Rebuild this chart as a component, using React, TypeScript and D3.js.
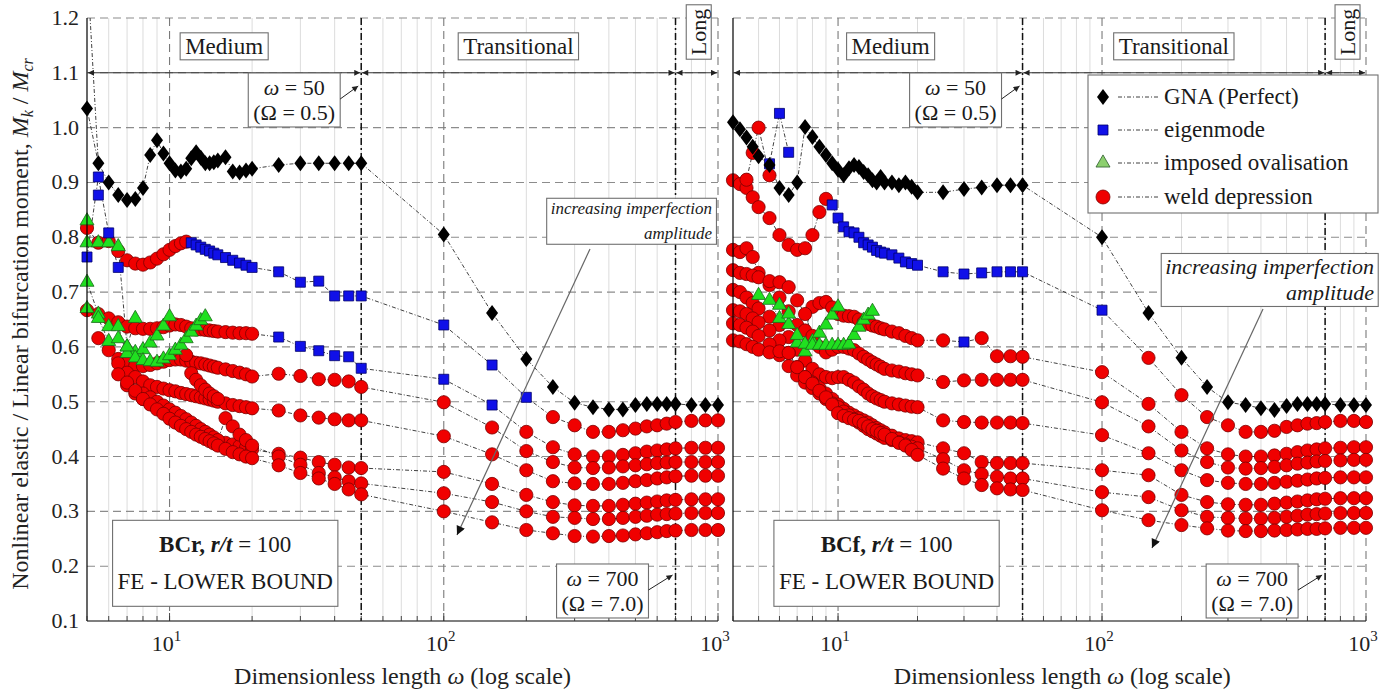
import React, { useRef, useEffect } from "react";
import * as d3 from "d3";

// dimensionless length grid, BCr panel
const omegaL = [5, 5.5, 6, 6.5, 7, 7.5, 8, 8.5, 9, 9.5,
  10, 10.5, 11, 11.5, 12, 12.5, 13, 13.5, 14, 14.5, 15,
  16, 17, 18, 19, 20,
  25, 30, 35, 40, 45, 50,
  100, 150, 200, 250, 300, 350, 400, 450, 500, 550, 600, 650, 700,
  800, 900, 1000];
// BCf panel starts a bit lower
const omegaR = [4, 4.25, 4.5, 4.75,
  5, 5.5, 6, 6.5, 7, 7.5, 8, 8.5, 9, 9.5,
  10, 10.5, 11, 11.5, 12, 12.5, 13, 13.5, 14, 14.5, 15,
  16, 17, 18, 19, 20,
  25, 30, 35, 40, 45, 50,
  100, 150, 200, 250, 300, 350, 400, 450, 500, 550, 600, 650, 700,
  800, 900, 1000];

const yTicks = [0.1, 0.2, 0.3, 0.4, 0.5, 0.6, 0.7, 0.8, 0.9, 1.0, 1.1, 1.2];
const decades = [10, 100, 1000];
const decadeExp = ["1", "2", "3"];
const regionBounds = [50, 700];
const regionNames = ["Medium", "Transitional", "Long"];
const legendLabels = ["GNA (Perfect)", "eigenmode", "imposed ovalisation", "weld depression"];

// ---- BCr (left) ----
const gnaL = [1.035, 0.935, 0.9, 0.877, 0.868, 0.87, 0.89, 0.95, 0.977, 0.953,
  0.935, 0.922, 0.92, 0.925, 0.944, 0.955, 0.945, 0.935, 0.935, 0.937, 0.94,
  0.946, 0.92, 0.918, 0.922, 0.925,
  0.932, 0.935, 0.935, 0.935, 0.935, 0.935,
  0.805, 0.662, 0.578, 0.527, 0.498, 0.49, 0.486, 0.486, 0.494, 0.496, 0.496, 0.496, 0.496,
  0.494, 0.494, 0.494];

const weldAL = [0.817, 0.79, 0.793, 0.775, 0.758, 0.752, 0.75, 0.754, 0.761, 0.769,
  0.777, 0.784, 0.789, 0.792, null, null, null, null, null, null, null,
  null, null, null, null, null,
  null, null, null, null, null, null,
  null, null, null, 0.472, 0.457, 0.445, 0.445, 0.448, 0.451, 0.455, 0.457, 0.46, 0.463,
  0.465, 0.466, 0.466];
const weldBL = [0.667, 0.66, 0.652, 0.645, 0.637, 0.634, 0.633, 0.633, 0.634, 0.636,
  0.639, 0.641, 0.64, 0.637, 0.634, 0.632, 0.632, 0.631, 0.63, 0.629, 0.628,
  0.627, 0.626, 0.625, 0.625, 0.624,
  null, null, null, null, null, null,
  null, null, 0.445, 0.417, 0.404, 0.4, 0.4, 0.403, 0.406, 0.409, 0.411, 0.413, 0.415,
  0.416, 0.416, 0.416];
const weldCL = [null, 0.616, 0.594, 0.578, 0.57, 0.566, 0.565, 0.567, 0.57, 0.573,
  0.576, 0.577, 0.577, 0.575, 0.573, 0.571, 0.57, 0.568, 0.566, 0.564, 0.562,
  0.559, 0.556, 0.553, 0.55, 0.546,
  0.551, 0.547, 0.541, 0.54, 0.537, 0.527,
  0.499, 0.453, 0.41, 0.39, 0.38, 0.379, 0.38, 0.382, 0.384, 0.386, 0.388, 0.389, 0.39,
  0.39, 0.39, 0.39];
const weldDL = [null, null, null, 0.57, 0.553, 0.545, 0.537, 0.53, 0.527, 0.524,
  0.521, 0.519, 0.516, 0.514, 0.512, 0.51, 0.508, 0.506, 0.504, 0.502, 0.5,
  0.497, 0.494, 0.492, 0.49, 0.488,
  0.484, 0.475, 0.471, 0.468, 0.466, 0.466,
  0.437, 0.404, 0.375, 0.355, 0.351, 0.35, 0.35, 0.352, 0.355, 0.357, 0.36, 0.362, 0.364,
  0.365, 0.365, 0.365];
const weldEL = [null, null, null, null, 0.53, 0.515, 0.505, 0.497, 0.49, 0.484,
  0.478, 0.472, 0.466, 0.46, 0.455, 0.45, 0.445, 0.44, 0.436, 0.432, 0.428,
  0.425, 0.422, 0.419, 0.416, 0.413,
  0.405, 0.398, 0.39, 0.385, 0.38, 0.379,
  0.372, 0.35, 0.33, 0.317, 0.311, 0.31, 0.31, 0.312, 0.314, 0.316, 0.318, 0.32, 0.321,
  0.322, 0.322, 0.322];
const weldFL = [null, null, null, null, null, null, 0.515, 0.508, 0.5, 0.493,
  0.486, 0.48, 0.474, 0.468, 0.462, 0.456, 0.45, 0.445, 0.44, 0.435, 0.43,
  0.47, 0.455, 0.44, 0.43, 0.42,
  0.4, 0.385, 0.37, 0.362, 0.355, 0.351,
  0.333, 0.317, 0.3, 0.29, 0.288, 0.286, 0.286, 0.288, 0.29, 0.292, 0.294, 0.295, 0.296,
  0.297, 0.297, 0.297];
const weldGL = [null, null, null, 0.55, 0.535, 0.52, 0.505, 0.495, 0.486, 0.478,
  0.469, 0.462, 0.456, 0.45, 0.445, 0.44, 0.436, 0.432, 0.428, 0.424, 0.42,
  0.414, 0.408, 0.404, 0.4, 0.397,
  0.384, 0.37, 0.36, 0.35, 0.34, 0.331,
  0.3, 0.28, 0.266, 0.26, 0.255, 0.254, 0.255, 0.256, 0.258, 0.26, 0.262, 0.264, 0.265,
  0.266, 0.266, 0.266];
const weldHL = [[11.5, 0.585], [12, 0.552], [12.5, 0.54], [13, 0.53], [13.5, 0.522], [14, 0.515], [14.5, 0.51], [15, 0.505]];

const eigAL = [[12, 0.79], [12.5, 0.786], [13, 0.782], [13.5, 0.778], [14, 0.775], [14.5, 0.771], [15, 0.768],
  [16, 0.763], [17, 0.758], [18, 0.753], [19, 0.749], [20, 0.745], [25, 0.737], [30, 0.718], [35, 0.72],
  [40, 0.693], [45, 0.693], [50, 0.693], [100, 0.64], [150, 0.567], [200, 0.508]];
const eigBL = [[25, 0.618], [30, 0.601], [35, 0.593], [40, 0.584], [45, 0.582], [50, 0.561], [100, 0.541], [150, 0.494]];
const eigSL = [[5, 0.764], [5.5, 0.91], [6, 0.808], [6.5, 0.745]];
const eigTL = [[5.5, 0.877]];

const ovAL = [[5, 0.79], [5.5, 0.79], [6, 0.79], [6.5, 0.783], [7, 0.6], [7.5, 0.59], [8, 0.595], [8.5, 0.607], [9, 0.62], [9.5, 0.638], [10, 0.655]];
const ovBL = [[5, 0.718], [5.5, 0.66], [6, 0.637], [6.5, 0.637], [7, 0.588], [7.5, 0.58], [8, 0.575], [8.5, 0.573], [9, 0.572],
  [9.5, 0.578], [10, 0.584], [10.5, 0.594], [11, 0.603], [11.5, 0.615], [12, 0.627], [12.5, 0.638], [13, 0.648], [13.5, 0.655]];
const ovCL = [[5, 0.67], [5.5, 0.652], [6, 0.61], [6.5, 0.615], [7, 0.6], [7.5, 0.652]];
const ovDL = [[5, 0.83]];

// line pieces without own markers (where a curve changes marker, or enters from above 1.2)
const linksL = [
  [[5, 1.3], [5.5, 0.935]],
  [[11.5, 0.792], [12, 0.79]],
  [[200, 0.508], [250, 0.472]],
  [[20, 0.624], [25, 0.618]],
  [[150, 0.494], [200, 0.445]],
];

// ---- BCf (right) ----
const gnaR = [1.01, 0.997, 0.982, 0.965,
  0.948, 0.932, 0.89, 0.877, 0.9, 1.001, 0.983, 0.965, 0.95, 0.935,
  0.923, 0.913, 0.926, 0.932, 0.928, 0.919, 0.913, 0.904, 0.9, 0.91, 0.9,
  0.9, 0.895, 0.9, 0.892, 0.882,
  0.882, 0.888, 0.891, 0.895, 0.895, 0.895,
  0.8, 0.662, 0.58, 0.527, 0.499, 0.494, 0.488, 0.485, 0.492, 0.496, 0.496, 0.496, 0.496,
  0.494, 0.494, 0.494];

const weldAR = [0.904, 0.897, 0.89, 0.873,
  0.855, 0.835, 0.804, 0.786, 0.777, 0.78, 0.804, 0.846, 0.87, null,
  null, null, null, null, null, null, null, null, null, null, null,
  null, null, null, null, null,
  null, null, null, null, null, null,
  null, 0.58, 0.512, 0.472, 0.457, 0.445, 0.445, 0.447, 0.454, 0.457, 0.46, 0.461, 0.463,
  0.465, 0.465, 0.463];
const weldBR = [0.777, 0.773, 0.78, 0.764,
  0.735, 0.713, 0.69, 0.665, 0.64, 0.63, 0.673, 0.68, 0.682, 0.672,
  0.66, 0.657, 0.656, 0.655, 0.65, 0.645, 0.642, 0.639, 0.637, 0.634, 0.632,
  0.628, 0.625, 0.62, 0.616, 0.612,
  0.612, null, 0.616, 0.583, 0.583, 0.582,
  0.554, 0.496, 0.445, 0.415, 0.404, 0.4, 0.4, 0.402, 0.405, 0.408, 0.411, 0.413, 0.415,
  0.416, 0.417, 0.417];
const weldCR = [0.74, 0.735, 0.733, 0.73,
  0.727, 0.72, 0.718, 0.709, 0.685, 0.66, 0.62, 0.6, 0.59, 0.595,
  0.6, 0.6, 0.597, 0.594, 0.588, 0.582, 0.577, 0.572, 0.568, 0.564, 0.56,
  0.557, 0.555, 0.552, 0.55, 0.548,
  0.536, 0.539, 0.54, 0.54, 0.54, 0.54,
  0.499, 0.455, 0.411, 0.39, 0.38, 0.378, 0.379, 0.381, 0.384, 0.387, 0.389, 0.391, 0.392,
  0.393, 0.394, 0.394];
const weldDR = [0.704, 0.7, 0.69, 0.68,
  0.67, 0.655, 0.64, 0.618, 0.595, 0.575, 0.56, 0.55, 0.545, 0.543,
  0.545, 0.545, 0.54, 0.535, 0.528, 0.522, 0.515, 0.51, 0.506, 0.503, 0.5,
  0.497, 0.495, 0.493, 0.491, 0.49,
  0.466, 0.463, 0.462, 0.462, 0.462, 0.461,
  0.439, 0.406, 0.375, 0.357, 0.352, 0.35, 0.35, 0.352, 0.354, 0.356, 0.358, 0.36, 0.361,
  0.362, 0.362, 0.362];
const weldER = [0.667, 0.665, 0.66, 0.652,
  0.645, 0.63, 0.612, 0.589, 0.563, 0.545, 0.535, 0.525, 0.515, 0.505,
  0.495, 0.487, 0.48, 0.475, 0.47, 0.466, 0.462, 0.457, 0.452, 0.448, 0.444,
  0.438, 0.433, 0.43, 0.428, 0.426,
  0.415, 0.406, 0.39, 0.388, 0.388, 0.388,
  0.375, 0.366, 0.33, 0.317, 0.313, 0.312, 0.312, 0.314, 0.316, 0.318, 0.32, 0.322, 0.323,
  0.324, 0.324, 0.324];
const weldFR = [0.643, 0.64, 0.635, 0.628,
  0.62, 0.605, 0.585, 0.565, 0.548, 0.535, 0.525, 0.515, 0.505, 0.497,
  0.49, 0.482, 0.475, 0.468, 0.462, 0.456, 0.45, 0.446, 0.442, 0.438, 0.434,
  0.43, 0.426, 0.422, 0.418, 0.415,
  0.395, 0.375, 0.368, 0.363, 0.36, 0.36,
  0.335, 0.326, 0.302, 0.29, 0.288, 0.287, 0.287, 0.288, 0.29, 0.292, 0.294, 0.295, 0.296,
  0.297, 0.297, 0.297];
const weldGR = [0.612, 0.61, 0.605, 0.6,
  0.595, 0.59, 0.592, 0.589, 0.563, 0.545, 0.533, 0.52, 0.508, 0.495,
  0.479, 0.474, 0.47, 0.467, 0.465, 0.46, 0.455, 0.45, 0.447, 0.443, 0.44,
  0.432, 0.425, 0.42, 0.412, 0.403,
  0.378, 0.36, 0.348, 0.342, 0.34, 0.339,
  0.302, 0.284, 0.275, 0.269, 0.265, 0.264, 0.264, 0.265, 0.266, 0.267, 0.268, 0.268, 0.269,
  0.27, 0.27, 0.27];
const weldHR = [[4.5, 0.905], [4.75, 0.954], [5, 1.0], [5.5, 0.913]];

const eigAR = [[9.5, 0.859], [10, 0.835], [10.5, 0.819], [11, 0.81], [11.5, 0.808], [12, 0.8], [12.5, 0.79],
  [13, 0.786], [13.5, 0.782], [14, 0.776], [14.5, 0.773], [15, 0.771], [16, 0.768], [17, 0.762], [18, 0.755],
  [19, 0.752], [20, 0.749], [25, 0.737], [30, 0.733], [35, 0.735], [40, 0.737], [45, 0.737], [50, 0.737], [100, 0.667]];
const eigBR = [[30, 0.609]];
const eigSR = [[5.5, 0.934], [6, 1.026], [6.5, 0.955]];

const ovAR = [[5, 0.694], [5.5, 0.685], [6, 0.652], [6.5, 0.641], [7, 0.607], [7.5, 0.591], [8, 0.61], [8.5, 0.625], [9, 0.64], [9.5, 0.658], [10, 0.673]];
const ovBR = [[6, 0.676], [6.5, 0.66], [7, 0.621], [7.5, 0.605], [8, 0.603], [8.5, 0.603], [9, 0.603], [9.5, 0.603], [10, 0.603],
  [10.5, 0.603], [11, 0.605], [11.5, 0.621], [12, 0.636], [12.5, 0.649], [13, 0.658], [13.5, 0.665]];

const linksR = [
  [[9, 0.87], [9.5, 0.859]],
  [[100, 0.667], [150, 0.58]],
  [[25, 0.612], [30, 0.609], [35, 0.616]],
];

const FONT = "'Liberation Serif', 'Times New Roman', Times, serif";
const y = d3.scaleLinear().domain([0.1, 1.2]).range([621, 18]);

const diamond = "M0,-8L6,0L0,8L-6,0Z";
const squarePath = d3.symbol(d3.symbolSquare, 100)();
const triPath = d3.symbol(d3.symbolTriangle, 85)();

// text box with white fill, lines = array of span arrays
function addBox(parent: any, cx: number, cy: number, lines: any[], opts: any = {}) {
  const { size = 23, gap = 26, anchor = "middle", padX = 5, padY = 1 } = opts;
  const g = parent.append("g");
  const n = lines.length;
  lines.forEach((spans: any[], k: number) => {
    const t = g.append("text")
      .attr("x", cx)
      .attr("y", cy + (k - (n - 1) / 2) * gap + size * 0.34)
      .attr("text-anchor", anchor)
      .attr("font-size", size)
      .attr("fill", "#1a1a1a");
    spans.forEach((s: any) => {
      t.append("tspan")
        .text(s.t)
        .attr("font-weight", s.b ? "bold" : null)
        .attr("font-style", s.i ? "italic" : null);
    });
  });
  const bb = g.node().getBBox();
  g.insert("rect", ":first-child")
    .attr("x", bb.x - padX)
    .attr("y", bb.y - padY)
    .attr("width", bb.width + 2 * padX)
    .attr("height", bb.height + 2 * padY)
    .attr("fill", "#fff")
    .attr("stroke", "#707070")
    .attr("stroke-width", 1.1);
  return g;
}

function drawPanel(svg: any, p: any) {
  const x = p.x;
  const [d0, d1] = x.domain();
  const g = svg.append("g");
  const yTop = y(1.2);
  const yBot = y(0.1);
  const isDecade = (v: number) => Math.abs(Math.log10(v) - Math.round(Math.log10(v))) < 1e-9;
  const ticks = x.ticks();
  const minor = ticks.filter((v: number) => !isDecade(v) && v > d0 + 1e-9);

  const clipId = "clip-" + p.tag;
  svg.select("defs").append("clipPath").attr("id", clipId)
    .append("rect").attr("x", x(d0)).attr("y", yTop).attr("width", x(d1) - x(d0)).attr("height", yBot - yTop);

  // minor grid
  g.append("g").selectAll("line").data(minor).join("line")
    .attr("x1", (d: number) => x(d)).attr("x2", (d: number) => x(d))
    .attr("y1", yTop).attr("y2", yBot)
    .attr("stroke", "#dcdcdc").attr("stroke-width", 1);

  // major grid
  g.append("g").selectAll("line").data(yTicks.slice(1)).join("line")
    .attr("x1", x(d0)).attr("x2", x(d1))
    .attr("y1", (d: number) => y(d)).attr("y2", (d: number) => y(d))
    .attr("stroke", "#8c8c8c").attr("stroke-width", 1.1).attr("stroke-dasharray", "8 5");
  g.append("g").selectAll("line").data(decades).join("line")
    .attr("x1", (d: number) => x(d)).attr("x2", (d: number) => x(d))
    .attr("y1", yTop).attr("y2", yBot)
    .attr("stroke", "#7a7a7a").attr("stroke-width", 1.1).attr("stroke-dasharray", "8 5");

  // region boundaries
  g.append("g").selectAll("line").data(regionBounds).join("line")
    .attr("x1", (d: number) => x(d)).attr("x2", (d: number) => x(d))
    .attr("y1", yTop).attr("y2", yBot)
    .attr("stroke", "#111").attr("stroke-width", 1.5).attr("stroke-dasharray", "7 3 2 3");

  // series
  const line = d3.line<any>()
    .defined((d: any) => d[1] != null)
    .x((d: any) => x(d[0]))
    .y((d: any) => y(d[1]));
  const onGrid = (vals: any[]) => p.grid.map((w: number, i: number) => [w, vals[i]]);
  const weldSets = [...p.weldRows.map(onGrid), ...p.weldPairs];
  const gnaSet = onGrid(p.gna);
  const allSets = [...weldSets, ...p.oval, ...p.eig, gnaSet, ...p.links];

  g.append("g").attr("clip-path", `url(#${clipId})`)
    .selectAll("path").data(allSets).join("path")
    .attr("d", line)
    .attr("fill", "none")
    .attr("stroke", "#2b2b2b")
    .attr("stroke-width", 0.9)
    .attr("stroke-dasharray", "4 2 1 2");

  const valid = (sets: any[]) => sets.flat().filter((d: any) => d[1] != null);
  const pos = (d: any) => `translate(${x(d[0])},${y(d[1])})`;

  g.append("g").selectAll("circle").data(valid(weldSets)).join("circle")
    .attr("cx", (d: any) => x(d[0])).attr("cy", (d: any) => y(d[1]))
    .attr("r", 6.6)
    .attr("fill", "#f00000").attr("stroke", "#7a0000").attr("stroke-width", 0.8);
  g.append("g").selectAll("path").data(valid(p.oval)).join("path")
    .attr("d", triPath).attr("transform", pos)
    .attr("fill", "#20e020").attr("stroke", "#1a6a1a").attr("stroke-width", 0.8);
  g.append("g").selectAll("path").data(valid(p.eig)).join("path")
    .attr("d", squarePath).attr("transform", pos)
    .attr("fill", "#1010e8").attr("stroke", "#00006a").attr("stroke-width", 0.8);
  g.append("g").selectAll("path").data(valid([gnaSet])).join("path")
    .attr("d", diamond).attr("transform", pos)
    .attr("fill", "#000");

  // axes
  g.append("line").attr("x1", x(d0)).attr("x2", x(d0)).attr("y1", yTop).attr("y2", yBot)
    .attr("stroke", "#000").attr("stroke-width", 1.2);
  g.append("line").attr("x1", x(d0)).attr("x2", x(d1)).attr("y1", yBot).attr("y2", yBot)
    .attr("stroke", "#000").attr("stroke-width", 1.2);
  g.append("g").selectAll("line").data(ticks).join("line")
    .attr("x1", (d: number) => x(d)).attr("x2", (d: number) => x(d))
    .attr("y1", yBot).attr("y2", (d: number) => yBot - (isDecade(d) ? 8 : 5))
    .attr("stroke", "#333").attr("stroke-width", 0.9);

  if (p.yLabels) {
    g.append("g").selectAll("text").data(yTicks).join("text")
      .attr("x", 79).attr("y", (d: number) => y(d) + 7)
      .attr("text-anchor", "end").attr("font-size", 22).attr("fill", "#222")
      .text((d: number) => d.toFixed(1));
  }

  decades.forEach((d, i) => {
    const t = g.append("text").attr("x", x(d) - 3).attr("y", 651)
      .attr("text-anchor", "middle").attr("font-size", 22).attr("fill", "#222");
    t.append("tspan").text("10");
    t.append("tspan").text(decadeExp[i]).attr("font-size", 15).attr("dy", -10);
  });

  const xt = g.append("text").attr("x", x(Math.sqrt(5 * 1000))).attr("y", 684)
    .attr("text-anchor", "middle").attr("font-size", 24).attr("fill", "#222");
  xt.append("tspan").text("Dimensionless length ");
  xt.append("tspan").text("ω").attr("font-style", "italic");
  xt.append("tspan").text(" (log scale)");

  // region arrows
  const yr = y(1.1);
  const edges = [d0, ...regionBounds, d1];
  for (let i = 0; i < 3; i++) {
    g.append("line")
      .attr("x1", x(edges[i]) + 1).attr("x2", x(edges[i + 1]) - 1)
      .attr("y1", yr).attr("y2", yr)
      .attr("stroke", "#333").attr("stroke-width", 1.1)
      .attr("marker-start", "url(#ah)").attr("marker-end", "url(#ah)");
  }
  const labelLo = [5, 50, 700];
  const labelHi = [50, 700, 1000];
  addBox(g, x(Math.sqrt(labelLo[0] * labelHi[0])), 46, [[{ t: regionNames[0] }]]);
  addBox(g, x(Math.sqrt(labelLo[1] * labelHi[1])), 46, [[{ t: regionNames[1] }]]);
  const lg = g.append("g").attr("transform", `translate(${x(Math.sqrt(labelLo[2] * labelHi[2])) + 2},32) rotate(-90)`);
  addBox(lg, 0, 0, [[{ t: regionNames[2] }]], { size: 22, padX: 4, padY: 0 });

  // omega = 50 note
  const b50 = addBox(g, x(50) - 67, 100,
    [[{ t: "ω", i: true }, { t: " = 50" }], [{ t: "(Ω = 0.5)" }]], { size: 22, gap: 25, padY: 2 });
  const bb50 = b50.node().getBBox();
  g.append("line").attr("x1", bb50.x + bb50.width).attr("y1", 99)
    .attr("x2", x(50) - 3).attr("y2", 86)
    .attr("stroke", "#222").attr("stroke-width", 1).attr("marker-end", "url(#ah)");

  // omega = 700 note
  const b700 = addBox(g, x(700) - 73, 591,
    [[{ t: "ω", i: true }, { t: " = 700" }], [{ t: "(Ω = 7.0)" }]], { size: 22, gap: 25, padY: 2 });
  const bb700 = b700.node().getBBox();
  g.append("line").attr("x1", bb700.x + bb700.width).attr("y1", 590)
    .attr("x2", x(700) - 3).attr("y2", 575)
    .attr("stroke", "#222").attr("stroke-width", 1).attr("marker-end", "url(#ah)");

  // case label
  addBox(g, x(50) - 136, 563,
    [[{ t: p.tag + ",", b: true }, { t: " r/t", b: true, i: true }, { t: " = 100" }], [{ t: "FE - LOWER BOUND" }]],
    { gap: 37, padY: 12, padX: 5 });

  // increasing imperfection note
  g.append("line")
    .attr("x1", p.incFrom[0]).attr("y1", p.incFrom[1])
    .attr("x2", p.incTo[0]).attr("y2", p.incTo[1])
    .attr("stroke", "#666").attr("stroke-width", 1.2)
    .attr("marker-end", "url(#ahBig)");
  addBox(g, p.incRight, p.incCy,
    [[{ t: "increasing imperfection", i: true }], [{ t: "amplitude", i: true }]],
    { size: p.incSize, anchor: "end", gap: p.incGap, padX: 4, padY: 1 });

  return g;
}

const App = () => {
  const ref = useRef<SVGSVGElement>(null);

  useEffect(() => {
    const svg = d3.select(ref.current);
    svg.selectAll("*").remove();
    svg.attr("font-family", FONT);

    const defs = svg.append("defs");
    const mk = (id: string, w: number, h: number, color: string) =>
      defs.append("marker").attr("id", id)
        .attr("viewBox", "0 0 10 10").attr("refX", 10).attr("refY", 5)
        .attr("markerWidth", w).attr("markerHeight", h)
        .attr("markerUnits", "userSpaceOnUse").attr("orient", "auto-start-reverse")
        .append("path").attr("d", "M0,0L10,5L0,10Z").attr("fill", color);
    mk("ah", 8, 6, "#222");
    mk("ahBig", 15, 9, "#111");

    svg.append("rect").attr("width", 1400).attr("height", 693).attr("fill", "#fff");

    drawPanel(svg, {
      x: d3.scaleLog().domain([5, 1000]).range([87, 718]),
      grid: omegaL,
      gna: gnaL,
      weldRows: [weldAL, weldBL, weldCL, weldDL, weldEL, weldFL, weldGL],
      weldPairs: [weldHL],
      eig: [eigAL, eigBL, eigSL, eigTL],
      oval: [ovAL, ovBL, ovCL, ovDL],
      links: linksL,
      tag: "BCr",
      yLabels: true,
      incFrom: [590, 249],
      incTo: [457, 535],
      incRight: 712,
      incCy: 221,
      incSize: 17,
      incGap: 25,
    });

    const right = drawPanel(svg, {
      x: d3.scaleLog().domain([4, 1000]).range([733, 1366]),
      grid: omegaR,
      gna: gnaR,
      weldRows: [weldAR, weldBR, weldCR, weldDR, weldER, weldFR, weldGR],
      weldPairs: [weldHR],
      eig: [eigAR, eigBR, eigSR],
      oval: [ovAR, ovBR],
      links: linksR,
      tag: "BCf",
      yLabels: false,
      incFrom: [1263, 309],
      incTo: [1152, 548],
      incRight: 1374,
      incCy: 280,
      incSize: 22,
      incGap: 26,
    });

    // legend
    const leg = right.append("g");
    leg.append("rect").attr("x", 1088).attr("y", 75).attr("width", 290).attr("height", 138)
      .attr("fill", "#fff").attr("stroke", "#707070").attr("stroke-width", 1.1);
    const ly = [97, 130, 163, 197];
    legendLabels.forEach((lab, i) => {
      leg.append("line").attr("x1", 1118).attr("x2", 1158).attr("y1", ly[i]).attr("y2", ly[i])
        .attr("stroke", "#2b2b2b").attr("stroke-width", 0.9).attr("stroke-dasharray", "4 2 1 2");
      leg.append("text").attr("x", 1164).attr("y", ly[i] + 7).attr("font-size", 23).attr("fill", "#1a1a1a").text(lab);
    });
    leg.append("path").attr("d", diamond).attr("transform", `translate(1103,${ly[0]})`).attr("fill", "#000");
    leg.append("path").attr("d", squarePath).attr("transform", `translate(1103,${ly[1]})`)
      .attr("fill", "#1010e8").attr("stroke", "#00006a").attr("stroke-width", 0.8);
    leg.append("path").attr("d", triPath).attr("transform", `translate(1103,${ly[2]})`)
      .attr("fill", "#8ccf6e").attr("stroke", "#2a5a2a").attr("stroke-width", 0.8);
    leg.append("circle").attr("cx", 1103).attr("cy", ly[3]).attr("r", 7)
      .attr("fill", "#f00000").attr("stroke", "#7a0000").attr("stroke-width", 0.8);

    // y axis title
    const yt = svg.append("text")
      .attr("transform", "translate(28,324) rotate(-90)")
      .attr("text-anchor", "middle").attr("font-size", 24).attr("fill", "#222");
    yt.append("tspan").text("Nonlinear elastic / Linear bifurcation moment, ");
    yt.append("tspan").text("M").attr("font-style", "italic");
    yt.append("tspan").text("k").attr("font-style", "italic").attr("font-size", 16).attr("dy", 5);
    yt.append("tspan").text(" / ").attr("dy", -5);
    yt.append("tspan").text("M").attr("font-style", "italic");
    yt.append("tspan").text("cr").attr("font-style", "italic").attr("font-size", 16).attr("dy", 5);
  }, []);

  return (
    <svg
      ref={ref}
      width={1400}
      height={693}
      style={{ position: "absolute", left: 0, top: 0, display: "block" }}
    />
  );
};

export default App;
